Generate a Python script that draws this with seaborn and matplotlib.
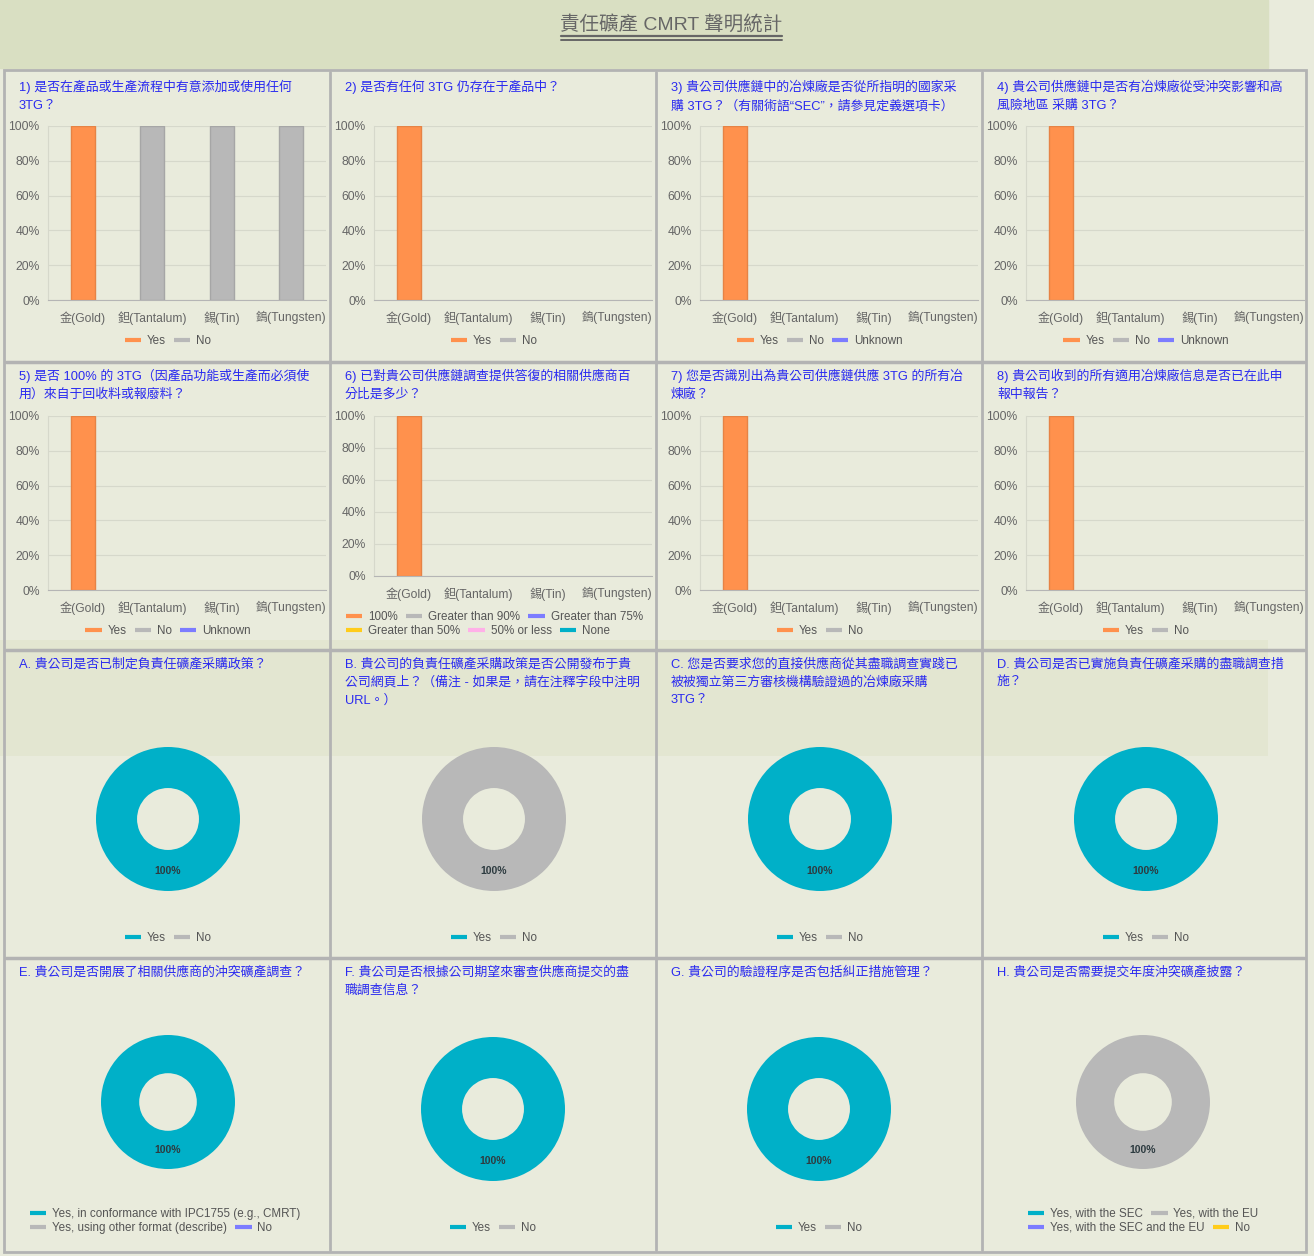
import matplotlib
matplotlib.use("Agg")
import matplotlib.pyplot as plt
import matplotlib.colors as mcolors
from matplotlib.lines import Line2D
from matplotlib.patches import Rectangle
import pandas as pd
import seaborn as sns

# ---- data ----
metals = ['金(Gold)', '鉭(Tantalum)', '錫(Tin)', '鎢(Tungsten)']

q1_values = {'Yes': [100, 0, 0, 0], 'No': [0, 100, 100, 100]}
q2_values = {'Yes': [100, 0, 0, 0], 'No': [0, 0, 0, 0]}
q3_values = {'Yes': [100, 0, 0, 0], 'No': [0, 0, 0, 0], 'Unknown': [0, 0, 0, 0]}
q4_values = {'Yes': [100, 0, 0, 0], 'No': [0, 0, 0, 0], 'Unknown': [0, 0, 0, 0]}
q5_values = {'Yes': [100, 0, 0, 0], 'No': [0, 0, 0, 0], 'Unknown': [0, 0, 0, 0]}
q6_values = {'100%': [100, 0, 0, 0], 'Greater than 90%': [0, 0, 0, 0],
             'Greater than 75%': [0, 0, 0, 0], 'Greater than 50%': [0, 0, 0, 0],
             '50% or less': [0, 0, 0, 0], 'None': [0, 0, 0, 0]}
q7_values = {'Yes': [100, 0, 0, 0], 'No': [0, 0, 0, 0]}
q8_values = {'Yes': [100, 0, 0, 0], 'No': [0, 0, 0, 0]}

bar_titles = [
    '1) 是否在產品或生產流程中有意添加或使用任何\n3TG？',
    '2) 是否有任何 3TG 仍存在于產品中？',
    '3) 貴公司供應鏈中的冶煉廠是否從所指明的國家采\n購 3TG？（有關術語“SEC”，請參見定義選項卡）',
    '4) 貴公司供應鏈中是否有冶煉廠從受沖突影響和高\n風險地區 采購 3TG？',
    '5) 是否 100% 的 3TG（因產品功能或生產而必須使\n用）來自于回收料或報廢料？',
    '6) 已對貴公司供應鏈調查提供答復的相關供應商百\n分比是多少？',
    '7) 您是否識別出為貴公司供應鏈供應 3TG 的所有冶\n煉廠？',
    '8) 貴公司收到的所有適用冶煉廠信息是否已在此申\n報中報告？',
]

yes_no = ['Yes', 'No']
conformance = ['Yes, in conformance with IPC1755 (e.g., CMRT)',
               'Yes, using other format (describe)', 'No']
disclosure = ['Yes, with the SEC', 'Yes, with the EU',
              'Yes, with the SEC and the EU', 'No']

pie_titles = [
    'A. 貴公司是否已制定負責任礦產采購政策？',
    'B. 貴公司的負責任礦產采購政策是否公開發布于貴\n公司網頁上？（備注 - 如果是，請在注釋字段中注明\nURL。）',
    'C. 您是否要求您的直接供應商從其盡職調查實踐已\n被被獨立第三方審核機構驗證過的冶煉廠采購\n3TG？',
    'D. 貴公司是否已實施負責任礦產采購的盡職調查措\n施？',
    'E. 貴公司是否開展了相關供應商的沖突礦產調查？',
    'F. 貴公司是否根據公司期望來審查供應商提交的盡\n職調查信息？',
    'G. 貴公司的驗證程序是否包括糾正措施管理？',
    'H. 貴公司是否需要提交年度沖突礦產披露？',
]
pie_A = [100, 0]
pie_B = [0, 100]
pie_C = [100, 0]
pie_D = [100, 0]
pie_E = [100, 0, 0]
pie_F = [100, 0]
pie_G = [100, 0]
pie_H = [0, 100, 0, 0]

bar_colors = {'Yes': '#ff914d', 'No': '#b8b8b8', 'Unknown': '#7c7cff',
              '100%': '#ff914d', 'Greater than 90%': '#b8b8b8',
              'Greater than 75%': '#7c7cff', 'Greater than 50%': '#ffcc1a',
              '50% or less': '#ffb0e8', 'None': '#00b0c8'}
pie_colors = ['#00b0c8', '#b8b8b8', '#7c7cff', '#ffcc1a']

# ---- style ----
sns.set_style("white")
plt.rcParams['font.family'] = ['Liberation Sans', 'Noto Sans CJK TC', 'DejaVu Sans']
plt.rcParams['axes.unicode_minus'] = False

W, H = 1314, 1256
fig = plt.figure(figsize=(W / 100, H / 100), dpi=100)
fig.patch.set_facecolor('#e9ebdc')


def box(x0, y0, x1, y1):
    return [x0 / W, 1 - y1 / H, (x1 - x0) / W, (y1 - y0) / H]


# background tints
fig.patches.append(Rectangle((0, 1 - 68 / H), 1268 / W, 68 / H, transform=fig.transFigure,
                             color='#d9dfc2', zorder=-10))
fig.patches.append(Rectangle((0, 1 - 756 / H), 1268 / W, 116 / H, transform=fig.transFigure,
                             color='#dce1c4', alpha=0.45, zorder=-10, lw=0))

# main title
fig.text(671 / W, 1 - 24 / H, '責任礦產 CMRT 聲明統計', ha='center', va='center',
         fontsize=14, color='#666666')
for yy, lw in [(36, 1.6), (39.5, 1.4)]:
    fig.add_artist(Line2D([561 / W, 782 / W], [1 - yy / H, 1 - yy / H], color='#666666', lw=lw))

# grid lines of the dashboard
grid_c = '#b3b3b3'
fig.patches.append(Rectangle((4 / W, 1 - 1252 / H), 1302 / W, 1182 / H, transform=fig.transFigure,
                             fill=False, edgecolor=grid_c, lw=2))
for xx in [330, 656, 982]:
    fig.add_artist(Line2D([xx / W, xx / W], [1 - 72 / H, 1 - 1250 / H], color=grid_c, lw=2))
for yy in [362, 650, 958]:
    fig.add_artist(Line2D([6 / W, 1304 / W], [1 - yy / H, 1 - yy / H], color=grid_c, lw=2.5))

col_x = [4, 330, 656, 982]
title_c = '#2a2af0'
text_c = '#666666'


def add_title(col, y, text):
    fig.text((col_x[col] + 15) / W, 1 - (y - 7) / H, text, ha='left', va='top',
             fontsize=9.3, color=title_c, linespacing=1.6)


def add_legend(labels, colors, x, y, loc='center'):
    handles = [Line2D([0], [0], color=c, lw=3, solid_capstyle='butt') for c in colors]
    fig.legend(handles, labels, loc=loc, bbox_to_anchor=(x / W, 1 - y / H), ncol=len(labels),
               frameon=False, fontsize=8.4, handlelength=1.4, handletextpad=0.5,
               columnspacing=0.7, borderpad=0, borderaxespad=0, labelcolor='#555555')


def bar_chart(col, top, bottom, values):
    ax = fig.add_axes(box(col_x[col] + 44, top, col_x[col] + 322, bottom))
    ax.set_facecolor('none')
    rows = []
    for answer, vals in values.items():
        for m, v in zip(metals, vals):
            if v > 0:
                rows.append({'metal': m, 'answer': answer, 'pct': v})
    df = pd.DataFrame(rows)
    sns.barplot(data=df, x='metal', y='pct', hue='answer', order=metals,
                hue_order=list(values.keys()), palette=bar_colors, dodge=False,
                width=0.35, legend=False, ax=ax, linewidth=1, saturation=1)
    for p in ax.patches:
        fc = mcolors.to_rgb(p.get_facecolor())
        p.set_edgecolor([c * 0.9 for c in fc])
    ax.set_xlim(-0.5, 3.5)
    ax.set_ylim(0, 100)
    ax.set_yticks(range(0, 101, 20))
    ax.set_yticklabels([f'{v}%' for v in range(0, 101, 20)])
    ax.set_xlabel('')
    ax.set_ylabel('')
    ax.set_xticks([-0.5, 0.5, 1.5, 2.5, 3.5], minor=True)
    ax.tick_params(axis='x', which='major', length=0, pad=8, labelsize=8.7, labelcolor=text_c)
    ax.tick_params(axis='x', which='minor', length=6, color='#c4c4c4', width=1)
    ax.tick_params(axis='y', length=0, pad=6, labelsize=8.7, labelcolor=text_c)
    ax.grid(axis='y', color='#d6d8cb', lw=0.8)
    ax.set_axisbelow(True)
    for s in ['top', 'right']:
        ax.spines[s].set_visible(False)
    ax.spines['left'].set_color('#d6d8cb')
    ax.spines['bottom'].set_color('#b5b5b5')
    return ax


def donut(cx, cy, r, values, labels):
    ax = fig.add_axes(box(cx - r, cy - r, cx + r, cy + r))
    ax.set_facecolor('none')
    vals = [v for v in values if v > 0]
    cols = [pie_colors[i] for i, v in enumerate(values) if v > 0]
    ax.pie(vals, colors=cols, radius=1, startangle=90, counterclock=False,
           wedgeprops={'width': 0.57, 'edgecolor': 'none'})
    ax.set_xlim(-1, 1)
    ax.set_ylim(-1, 1)
    ax.set_aspect('auto')
    total = sum(values)
    ax.text(0, -0.72, f'{round(100 * max(values) / total)}%', ha='center', va='center',
            fontsize=7.5, fontweight='bold', color='#2d3b40')
    ax.axis('off')


# ---- row 1 and row 2: bar charts ----
bar_sets = [q1_values, q2_values, q3_values, q4_values,
            q5_values, q6_values, q7_values, q8_values]
for i, vals in enumerate(bar_sets):
    col = i % 4
    if i < 4:
        add_title(col, 87, bar_titles[i])
        bar_chart(col, 126, 300, vals)
        add_legend(list(vals.keys()), [bar_colors[k] for k in vals], col_x[col] + 164, 341)
    else:
        add_title(col, 376, bar_titles[i])
        if i == 5:
            bar_chart(col, 416, 576, vals)
            keys = list(vals.keys())
            add_legend(keys[:3], [bar_colors[k] for k in keys[:3]], 346, 617, loc='center left')
            add_legend(keys[3:], [bar_colors[k] for k in keys[3:]], 346, 631, loc='center left')
        else:
            bar_chart(col, 416, 590, vals)
            add_legend(list(vals.keys()), [bar_colors[k] for k in vals], col_x[col] + 164, 631)

# ---- row 3 and row 4: donuts ----
row3 = [pie_A, pie_B, pie_C, pie_D]
for col, vals in enumerate(row3):
    add_title(col, 665, pie_titles[col])
    donut(col_x[col] + 164, 819, 72, vals, yes_no)
    add_legend(yes_no, pie_colors[:2], col_x[col] + 164, 938)

add_title(0, 973, pie_titles[4])
donut(168, 1102, 67, pie_E, conformance)
add_legend(conformance[:1], pie_colors[:1], 30, 1214, loc='center left')
add_legend(conformance[1:], pie_colors[1:3], 30, 1228, loc='center left')

add_title(1, 973, pie_titles[5])
donut(493, 1109, 72, pie_F, yes_no)
add_legend(yes_no, pie_colors[:2], 493, 1228)

add_title(2, 973, pie_titles[6])
donut(819, 1109, 72, pie_G, yes_no)
add_legend(yes_no, pie_colors[:2], 819, 1228)

add_title(3, 973, pie_titles[7])
donut(1143, 1102, 67, pie_H, disclosure)
add_legend(disclosure[:2], pie_colors[:2], 1028, 1214, loc='center left')
add_legend(disclosure[2:], pie_colors[2:4], 1028, 1228, loc='center left')

fig.savefig('out.png', dpi=100, facecolor=fig.get_facecolor())
